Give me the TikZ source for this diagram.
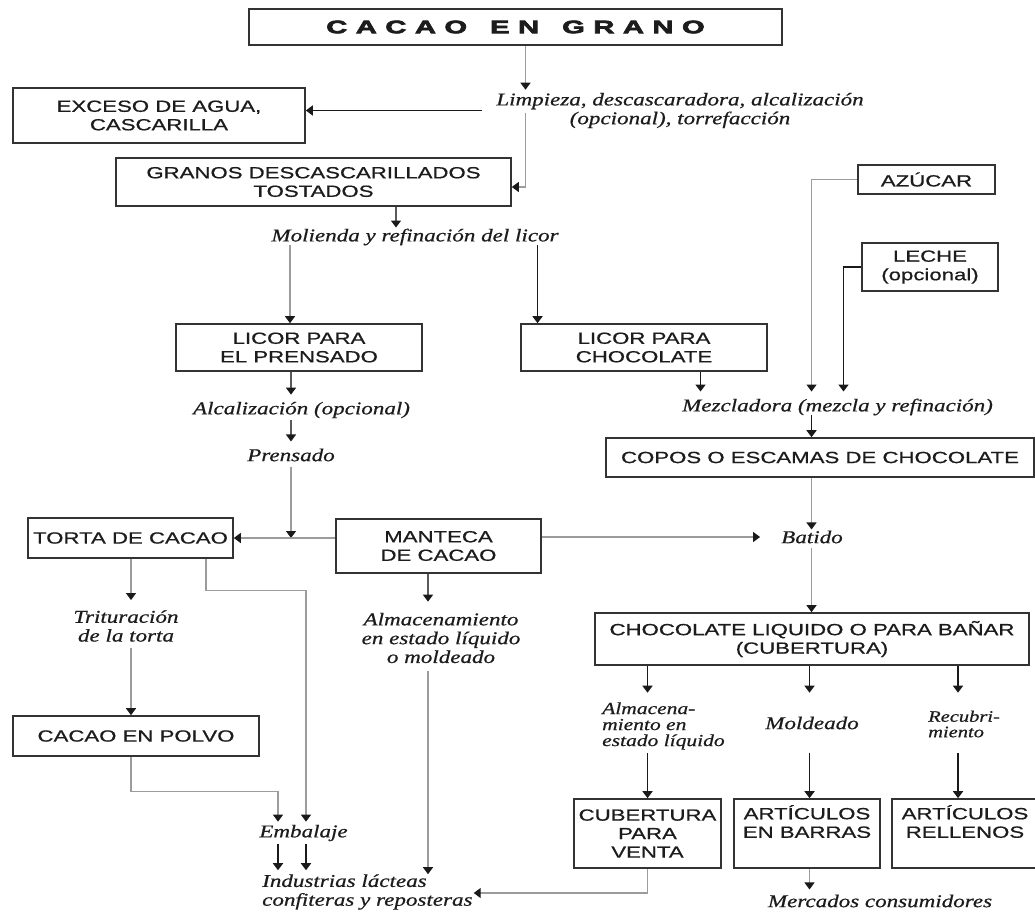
\documentclass[tikz,border=0pt]{standalone}
\usepackage{fontspec}
\usetikzlibrary{arrows.meta,calc}
\newfontfamily\boxfont[FakeStretch=1.37,FakeBold=0.7]{Liberation Sans}
\newfontfamily\itfont[FakeStretch=1.28,FakeBold=0.6]{Liberation Serif Italic}
\newfontfamily\titlefont[FakeStretch=1.62,FakeBold=4]{Liberation Sans Bold}
\definecolor{txt}{HTML}{1C1C1C}
\definecolor{boxline}{HTML}{333333}
\definecolor{lgrey}{HTML}{9C9C9C}
\definecolor{mgrey}{HTML}{5A5A5A}
\definecolor{blk}{HTML}{1A1A1A}
\newcommand\tg{\hspace{8.5pt}}
\newcommand\wg{\hspace{23pt}}
\begin{document}
\begin{tikzpicture}[x=1pt,y=-1pt,
  box/.style={draw=boxline, line width=1.6pt, inner sep=0pt, align=center, text=txt,
    font=\boxfont\fontsize{16.2pt}{18.5pt}\selectfont},
  lbl/.style={inner sep=3pt, align=center, text=txt,
    font=\itfont\fontsize{18pt}{18.8pt}\selectfont},
  slbl/.style={inner sep=3pt, align=left, text=txt,
    font=\itfont\fontsize{16.8pt}{16pt}\selectfont},
  tip/.style={-{Triangle[width=10pt,length=7pt,color=blk]}},
  garrow/.style={tip, draw=lgrey, line width=1.2pt},
  darrow/.style={tip, draw=mgrey, line width=1.3pt},
  barrow/.style={tip, draw=blk, line width=1.6pt}]
\useasboundingbox[fill=white] (0,0) rectangle (1035,911);

% ---------- boxes ----------
\node[box, minimum width=533pt, minimum height=36pt] (grano) at (515.5,27)
  {\titlefont\fontsize{18pt}{20pt}\selectfont C\tg A\tg C\tg A\tg O\wg E\tg N\wg G\tg R\tg A\tg N\tg O};
\node[box, minimum width=292pt, minimum height=55pt] (exceso) at (159,115.5) {EXCESO DE AGUA,\\CASCARILLA};
\node[box, minimum width=395pt, minimum height=48pt] (granos) at (313.5,182) {GRANOS DESCASCARILLADOS\\TOSTADOS};
\node[box, minimum width=246pt, minimum height=47pt] (licorp) at (299,347.5) {LICOR PARA\\EL PRENSADO};
\node[box, minimum width=246pt, minimum height=47pt] (licorc) at (644,347.5) {LICOR PARA\\CHOCOLATE};
\node[box, minimum width=137pt, minimum height=29pt] (azucar) at (926.5,179.5) {AZÚCAR};
\node[box, minimum width=136pt, minimum height=48pt] (leche) at (930,267) {LECHE\\(opcional)};
\node[box, minimum width=428pt, minimum height=39pt] (copos) at (820,457.5) {COPOS O ESCAMAS DE CHOCOLATE};
\node[box, minimum width=205pt, minimum height=40pt] (torta) at (130.5,538) {TORTA DE CACAO};
\node[box, minimum width=205pt, minimum height=54pt] (manteca) at (438.5,546) {MANTECA\\DE CACAO};
\node[box, minimum width=246pt, minimum height=40pt] (polvo) at (136,736) {CACAO EN POLVO};
\node[box, minimum width=434pt, minimum height=52pt] (liquido) at (812,639) {CHOCOLATE LIQUIDO O PARA BAÑAR\\(CUBERTURA)};
\node[box, minimum width=147pt, minimum height=69pt] (venta) at (647.5,833.5) {CUBERTURA\\PARA\\VENTA};
\node[box, minimum width=146pt, minimum height=69pt] (barras) at (807,833.5) {ARTÍCULOS\\EN BARRAS\\\strut};
\node[box, minimum width=146pt, minimum height=69pt] (rellenos) at (965,833.5) {ARTÍCULOS\\RELLENOS\\\strut};

% ---------- italic labels ----------
\node[lbl] (lim) at (680,110.5) {Limpieza, descascaradora, alcalización\\(opcional), torrefacción};
\node[lbl] (mol) at (415,237) {Molienda y refinación del licor};
\node[lbl] (alc) at (301.5,410) {Alcalización (opcional)};
\node[lbl] (pren) at (291,455) {Prensado};
\node[lbl] (mez) at (837.5,407) {Mezcladora (mezcla y refinación)};
\node[lbl] (batido) at (812,537) {Batido};
\node[lbl] (trit) at (126,626) {Trituración\\de la torta};
\node[lbl] (almac) at (441,638) {Almacenamiento\\en estado líquido\\o moldeado};
\node[lbl] (emb) at (303.5,833) {Embalaje};
\node[lbl, align=left, anchor=west] (ind) at (259,892) {Industrias lácteas\\confiteras y reposteras};
\node[slbl, anchor=west] (almv) at (599,726) {Almacena-\\miento en\\estado líquido};
\node[lbl] (mold) at (812,723) {Moldeado};
\node[slbl, anchor=west, font=\itfont\fontsize{16pt}{15.5pt}\selectfont] (recub) at (925,724) {Recubri-\\miento};
\node[lbl] (merc) at (880,901) {Mercados consumidores};

% ---------- x positions of vertical connectors ----------
\coordinate (xA) at (525.5,0);
\coordinate (xB) at (396,0);
\coordinate (xC) at (290,0);
\coordinate (xD) at (537.5,0);
\coordinate (xE) at (291,0);
\coordinate (xF) at (700.5,0);
\coordinate (xG) at (811.5,0);
\coordinate (xH) at (843.5,0);
\coordinate (xI) at (647.5,0);
\coordinate (xJ) at (809.5,0);
\coordinate (xK) at (958,0);
\coordinate (xL) at (131,0);
\coordinate (xM) at (206,0);
\coordinate (xN) at (306,0);
\coordinate (xO) at (278,0);
\coordinate (xQ) at (428,0);

% ---------- connectors ----------
\draw[garrow] (grano.south -| xA) -- (lim.north -| xA);
\draw[barrow] ($(lim.west)+(-11,0)$) -- (exceso.east |- lim.west);
\draw[garrow] ($(lim.north -| xA)+(0,23)$) |- ($(granos.east)+(0,5)$);
\draw[darrow] (granos.south -| xB) -- ($(mol.north -| xB)+(0,2)$);
\draw[garrow] ($(mol.south -| xC)+(0,-3)$) -- (licorp.north -| xC);
\draw[barrow] ($(mol.south -| xD)+(0,-3)$) -- (licorc.north -| xD);
\draw[darrow] (licorp.south -| xE) -- ($(alc.north -| xE)+(0,-4)$);
\draw[darrow] ($(alc.south -| xE)+(0,-1)$) -- ($(pren.north -| xE)+(0,-4)$);
\draw[garrow] ($(pren.south -| xE)+(0,2)$) -- (xE |- torta.east);
\draw[garrow] (manteca.west |- torta.east) -- (torta.east);
\draw[garrow] (manteca.east |- batido.west) -- ($(batido.west)+(-18,0)$);
\draw[barrow] (licorc.south -| xF) -- ($(mez.north -| xF)+(0,-4)$);
\draw[garrow] (azucar.west) -| ($(mez.north -| xG)+(0,-4)$);
\draw[barrow] (leche.west) -| ($(mez.north -| xH)+(0,-4)$);
\draw[barrow] ($(mez.south -| xG)+(0,-3)$) -- (copos.north -| xG);
\draw[garrow] (copos.south -| xG) -- ($(batido.north -| xG)+(0,2)$);
\draw[garrow] ($(batido.south -| xG)+(0,1)$) -- (liquido.north -| xG);
\draw[barrow] (liquido.south -| xI) -- ($(almv.north -| xI)+(0,-6.5)$);
\draw[barrow] (liquido.south -| xJ) -- ($(almv.north -| xJ)+(0,-6.5)$);
\draw[barrow] (liquido.south -| xK) -- ($(almv.north -| xK)+(0,-6.5)$);
\draw[barrow] (almv.south -| xI) -- (venta.north -| xI);
\draw[barrow] (almv.south -| xJ) -- (barras.north -| xJ);
\draw[barrow] (almv.south -| xK) -- (rellenos.north -| xK);
\draw[garrow] (torta.south -| xL) -- ($(trit.north -| xL)+(0,-7)$);
\draw[garrow] ($(trit.south -| xL)+(0,3)$) -- (polvo.north -| xL);
\draw[garrow] (torta.south -| xM) -- ++(0,32) -| (emb.north -| xN);
\draw[garrow] (polvo.south -| xL) -- ++(0,35) -| (emb.north -| xO);
\draw[barrow] (emb.south -| xO) -- ($(ind.north -| xO)+(0,-1)$);
\draw[barrow] (emb.south -| xN) -- ($(ind.north -| xN)+(0,-1)$);
\draw[darrow] (manteca.south -| xQ) -- ($(almac.north -| xQ)+(0,-8)$);
\draw[garrow] ($(almac.south -| xQ)+(0,5)$) -- ($(ind.north -| xQ)+(0,3)$);
\draw[garrow] (venta.south -| xI) |- ($(ind.east)+(-2,1)$);
\draw[garrow] (barras.south -| xJ) -- ($(merc.north -| xJ)+(0,-2)$);
\end{tikzpicture}
\end{document}
